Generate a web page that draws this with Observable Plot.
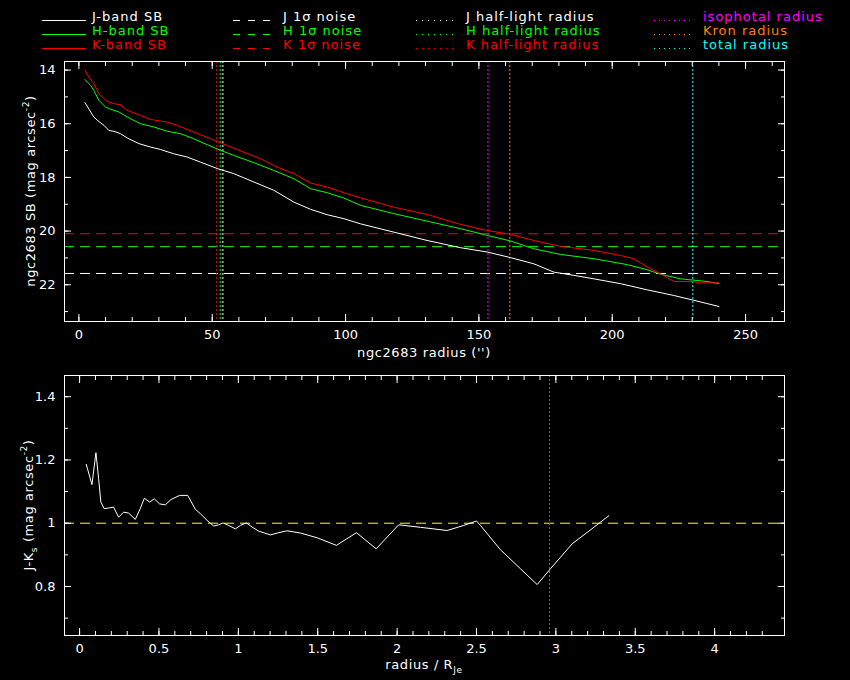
<!DOCTYPE html>
<html><head><meta charset="utf-8">
<script src="https://cdn.jsdelivr.net/npm/d3@7"></script>
<script src="https://cdn.jsdelivr.net/npm/@observablehq/plot@0.6"></script>
<style>
html,body{margin:0;padding:0;background:#000;}
#wrap{position:relative;width:850px;height:680px;background:#000;overflow:hidden;font-family:"DejaVu Sans",sans-serif;}
#wrap > svg{position:absolute;left:0;}
</style></head><body><div id="wrap"></div>
<script>
// ---------- data ----------
const jRadius = [2.25,5.6,6.9,9.4,11.25,13.1,15.6,18.1,22.5,26.9,30.6,35.6,40.6,45.6,51.9,58.1,65.6,73.1,80.6,86.9,93.1,99.4,105.6,118.1,130.6,143.1,153.1,161.9,170.6,178.1,185.6,193.1,203.1,213.1,223.1,230.6,240];
const jSB = [15.21,15.75,15.87,16.06,16.25,16.28,16.37,16.53,16.74,16.87,16.96,17.12,17.24,17.43,17.67,17.86,18.17,18.48,18.92,19.19,19.39,19.54,19.73,20.04,20.35,20.62,20.78,20.99,21.22,21.53,21.65,21.78,21.96,22.19,22.40,22.58,22.81];
const hRadius = [2.25,4.4,5.6,7.5,10,11.9,15,18.1,23.1,28.1,33.1,38.1,43.1,48.1,53.1,58.1,65.6,73.1,80.6,86.9,93.1,99.4,105.6,118.1,130.6,143.1,153.1,161.9,170.6,180.6,193.1,205.6,213.1,218.1,225.6,235.6,240];
const hSB = [14.35,14.57,14.76,15.13,15.38,15.46,15.56,15.75,16.0,16.12,16.28,16.37,16.56,16.78,16.99,17.18,17.45,17.74,18.05,18.42,18.57,18.77,19.04,19.35,19.63,19.91,20.16,20.37,20.66,20.87,21.03,21.25,21.44,21.61,21.78,21.88,21.96];
const kRadius = [2.25,3.75,5.6,7.5,10.6,13.1,15.6,18.1,23.1,26.9,33.1,36.9,43.1,49.4,55.6,61.9,68.1,74.4,80.6,86.9,93.1,99.4,105.6,118.1,130.6,143.1,153.1,161.9,170.6,180.6,193.1,203.1,208.1,213.1,218.1,223.1,230.6,231.9,240];
const kSB = [14.01,14.26,14.51,14.88,15.17,15.25,15.29,15.50,15.69,15.84,15.94,16.06,16.31,16.56,16.81,17.06,17.30,17.62,17.86,18.21,18.36,18.57,18.76,19.11,19.38,19.75,19.98,20.12,20.35,20.57,20.72,20.91,21.03,21.34,21.59,21.88,21.88,21.93,21.93];

const bands = ["J","H","K"];
const bandColors = ["#ffffff","#00ff00","#ff0000"];
const noiseSB = [21.58, 20.58, 20.10];
const halfLightRadius = [54.0, 53.0, 51.7];
const apertureNames = ["isophotal radius","Kron radius","total radius"];
const apertureColors = ["#ff00ff","#ff8000","#00ffff"];
const apertureRadius = [153.4, 161.6, 230.2];

const colorRadius = [0.042,0.078,0.103,0.120,0.134,0.155,0.183,0.214,0.246,0.277,0.309,0.351,0.382,0.408,0.441,0.471,0.504,0.540,0.576,0.630,0.681,0.729,0.761,0.803,0.845,0.876,0.903,0.939,0.981,1.013,1.050,1.086,1.128,1.202,1.254,1.307,1.391,1.496,1.618,1.744,1.868,2.010,2.147,2.315,2.420,2.500,2.525,2.651,2.777,2.882,2.966,3.103,3.239,3.334];
const colorJK = [1.186,1.122,1.223,1.141,1.067,1.046,1.048,1.051,1.019,1.035,1.032,1.012,1.046,1.079,1.067,1.077,1.061,1.058,1.075,1.088,1.088,1.044,1.030,1.009,0.991,0.995,1.001,0.993,0.982,0.993,1.001,0.988,0.975,0.963,0.970,0.976,0.969,0.954,0.930,0.970,0.919,0.995,0.987,0.977,0.993,1.007,0.993,0.916,0.856,0.806,0.856,0.935,0.987,1.024];
const colorRef = 1.0;
const isophotalNorm = 2.96;

const topXTicks = [0,50,100,150,200,250];
const topYTicks = [14,16,18,20,22];
const botXTicks = [0,0.5,1,1.5,2,2.5,3,3.5,4];
const botYTicks = [0.8,1,1.2,1.4];
const topXMinor = d3.range(0, 261, 10);
const topYMinor = d3.range(14, 24, 1);
const botXMinor = d3.range(0, 44).map(i => i / 10);
const botYMinor = d3.range(7, 15).map(i => i / 10);

// ---------- helpers ----------
const FONT = "'DejaVu Sans', sans-serif";
const style = {background: "black", color: "white", fontFamily: FONT, fontSize: "13px", overflow: "visible"};
const fmt = d => String(d);

function frameAxes(xMaj, xMin, yMaj, yMin) {
  const tk = (fn, data, anchor, size) => fn(data, {anchor, tickSize: -size, fill: "none", label: null, stroke: "white"});
  return [
    tk(Plot.axisX, xMin, "bottom", 4), tk(Plot.axisX, xMin, "top", 4),
    tk(Plot.axisX, xMaj, "bottom", 7), tk(Plot.axisX, xMaj, "top", 7),
    tk(Plot.axisY, yMin, "left", 4), tk(Plot.axisY, yMin, "right", 4),
    tk(Plot.axisY, yMaj, "left", 7), tk(Plot.axisY, yMaj, "right", 7),
    Plot.axisX(xMaj, {anchor: "bottom", tickSize: 0, tickPadding: 8, label: null, fill: "white", fontSize: 13, tickFormat: fmt}),
    Plot.axisY(yMaj, {anchor: "left", tickSize: 0, tickPadding: 9, label: null, fill: "white", fontSize: 13, tickFormat: fmt}),
    Plot.frame({stroke: "white"})
  ];
}

function addLabel(svg, x, y, rotate, parts) {
  const t = d3.select(svg).append("text")
    .attr("transform", `translate(${x},${y}) rotate(${rotate})`)
    .attr("text-anchor", "middle").attr("fill", "white")
    .attr("font-family", FONT).attr("font-size", 13).attr("letter-spacing", 0.6);
  parts.forEach(p => {
    const s = t.append("tspan").text(p.t);
    if (p.sup) s.attr("dy", -6).attr("font-size", 9);
    if (p.sub) s.attr("dy", 4).attr("font-size", 9);
    if (p.back) s.attr("dy", p.back);
  });
}

const wrap = document.getElementById("wrap");

// ---------- legend ----------
const legend = d3.create("svg").attr("width", 850).attr("height", 55).style("top", "0px");
const cols = [
  {x1: 42, x2: 86, tx: 92, dash: null, labels: ["J-band SB","H-band SB","K-band SB"], colors: bandColors},
  {x1: 233, x2: 278, tx: 283, dash: "7,8", labels: ["J 1σ noise","H 1σ noise","K 1σ noise"], colors: bandColors},
  {x1: 416, x2: 457, tx: 466, dash: "1,5", labels: ["J half-light radius","H half-light radius","K half-light radius"], colors: bandColors},
  {x1: 654, x2: 694, tx: 703, dash: "1,4", labels: apertureNames, colors: apertureColors}
];
const rowY = [20, 34, 48];
cols.forEach(c => c.labels.forEach((lab, i) => {
  const ln = legend.append("line").attr("x1", c.x1).attr("x2", c.x2).attr("y1", rowY[i] + 0.5).attr("y2", rowY[i] + 0.5)
    .attr("stroke", c.colors[i]).attr("stroke-width", 1);
  if (c.dash) ln.attr("stroke-dasharray", c.dash);
  legend.append("text").attr("x", c.tx).attr("y", rowY[i] + 1).attr("fill", c.colors[i])
    .attr("font-family", FONT).attr("font-size", 13).attr("letter-spacing", 1).text(lab);
}));
wrap.appendChild(legend.node());

// ---------- top panel ----------
const p1 = Plot.plot({
  width: 850, height: 306, marginLeft: 64, marginRight: 66, marginTop: 6, marginBottom: 40,
  style,
  x: {domain: [-5.4, 264.6]},
  y: {domain: [23.37, 13.68]},
  marks: [
    ...bands.map((b, i) => Plot.ruleY([noiseSB[i]], {stroke: bandColors[i], strokeDasharray: "10,6"})),
    ...bands.map((b, i) => Plot.ruleX([halfLightRadius[i]], {stroke: bandColors[i], strokeDasharray: "2,2"})),
    ...apertureNames.map((n, i) => Plot.ruleX([apertureRadius[i]], {stroke: apertureColors[i], strokeDasharray: "2,2"})),
    Plot.line(jSB, {x: jRadius, y: jSB, stroke: bandColors[0], strokeWidth: 1}),
    Plot.line(hSB, {x: hRadius, y: hSB, stroke: bandColors[1], strokeWidth: 1}),
    Plot.line(kSB, {x: kRadius, y: kSB, stroke: bandColors[2], strokeWidth: 1}),
    ...frameAxes(topXTicks, topXMinor, topYTicks, topYMinor)
  ]
});
p1.style.top = "55px";
addLabel(p1, 424, 302, 0, [{t: "ngc2683 radius ('')"}]);
addLabel(p1, 35, 136, -90, [{t: "ngc2683 SB (mag arcsec"}, {t: "-2", sup: true}, {t: ")", back: 6}]);
wrap.appendChild(p1);

// ---------- bottom panel ----------
const p2 = Plot.plot({
  width: 850, height: 315, marginLeft: 64, marginRight: 66, marginTop: 10, marginBottom: 45,
  style,
  x: {domain: [-0.095, 4.44]},
  y: {domain: [0.645, 1.467]},
  marks: [
    Plot.ruleY([colorRef], {stroke: "#ffff00", strokeDasharray: "10,6"}),
    Plot.ruleX([isophotalNorm], {stroke: apertureColors[0], strokeDasharray: "2,2"}),
    Plot.line(colorJK, {x: colorRadius, y: colorJK, stroke: "white", strokeWidth: 1}),
    ...frameAxes(botXTicks, botXMinor, botYTicks, botYMinor)
  ]
});
p2.style.top = "365px";
addLabel(p2, 424, 304, 0, [{t: "radius / R"}, {t: "Je", sub: true}]);
addLabel(p2, 33, 140, -90, [{t: "J-K"}, {t: "s", sub: true}, {t: " (mag arcsec", back: -4}, {t: "-2", sup: true}, {t: ")", back: 6}]);
wrap.appendChild(p2);
</script></body></html>
